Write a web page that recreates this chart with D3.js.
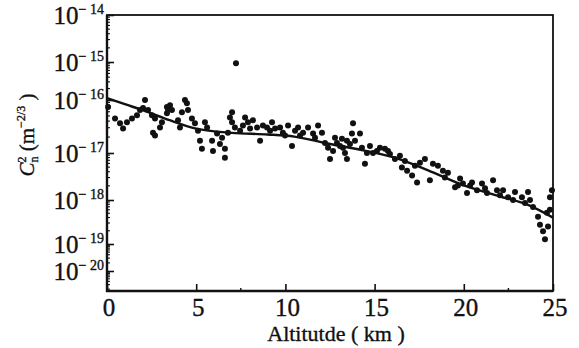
<!DOCTYPE html>
<html>
<head>
<meta charset="utf-8">
<script src="https://cdnjs.cloudflare.com/ajax/libs/d3/7.8.5/d3.min.js"></script>
<style>
  body { margin: 0; background: #fff; }
  svg { display: block; }
  text { font-family: "Liberation Serif", "DejaVu Serif", serif; fill: #111; stroke: #111; stroke-width: 0.35px; }
</style>
</head>
<body>
<svg id="chart" width="579" height="348"></svg>
<script>
// measured profile: altitude (km) and log10 of Cn2 (m^-2/3)
const altKm = [0.06,0.45,0.73,0.90,1.12,1.40,1.68,1.85,2.02,2.13,2.30,2.52,2.58,2.69,2.69,2.97,3.08,3.36,3.36,3.42,
  3.53,3.64,3.98,4.09,4.20,4.37,4.48,4.54,4.76,4.93,5.10,5.21,5.32,5.49,5.61,5.89,5.94,6.17,6.33,6.45,
  6.61,6.61,6.78,6.89,7.01,7.01,7.17,7.23,7.46,7.62,7.74,7.90,8.02,8.18,8.41,8.58,8.74,8.97,9.14,9.25,
  9.42,9.70,9.86,9.98,10.15,10.37,10.54,10.71,10.82,10.99,11.27,11.55,11.66,11.83,12.05,12.22,12.39,12.50,12.67,12.78,
  12.89,13.06,13.17,13.23,13.34,13.45,13.45,13.62,13.73,13.79,13.90,14.18,14.29,14.46,14.57,14.74,14.91,15.13,15.30,15.58,
  15.75,15.86,16.14,16.42,16.53,16.70,16.82,17.10,17.26,17.38,17.54,17.82,18.10,18.27,18.55,18.83,18.94,19.11,19.51,19.67,
  19.79,19.95,20.18,20.35,20.46,20.74,21.02,21.19,21.30,21.64,21.86,22.03,22.20,22.48,22.76,22.87,23.26,23.43,23.60,23.71,
  23.88,24.16,24.27,24.44,24.55,24.66,24.72,24.83,24.83,24.94];
const logCn2 = [-16.13,-16.35,-16.44,-16.54,-16.42,-16.35,-16.29,-16.19,-16.15,-16.00,-16.19,-16.29,-16.62,-16.35,-16.67,-16.52,-16.42,-16.13,-16.25,-16.19,
  -16.10,-16.19,-16.38,-16.52,-16.23,-16.00,-16.06,-16.19,-16.35,-16.44,-16.58,-16.77,-16.92,-16.42,-16.52,-16.77,-16.96,-16.63,-16.83,-16.71,
  -16.92,-17.10,-16.62,-16.33,-16.23,-16.42,-16.52,-15.03,-16.58,-16.48,-16.33,-16.42,-16.54,-16.38,-16.52,-16.77,-16.48,-16.52,-16.58,-16.42,
  -16.54,-16.52,-16.62,-16.67,-16.48,-16.87,-16.58,-16.52,-16.67,-16.62,-16.52,-16.63,-16.71,-16.48,-16.62,-16.81,-16.90,-17.13,-16.96,-16.71,
  -16.81,-16.87,-16.73,-16.90,-17.00,-16.77,-17.13,-16.83,-16.63,-16.44,-16.77,-16.63,-16.90,-17.23,-17.00,-16.87,-17.00,-16.96,-16.90,-16.92,
  -16.96,-17.02,-17.13,-17.06,-17.31,-17.17,-17.38,-17.48,-17.27,-17.63,-17.21,-17.13,-17.58,-17.23,-17.27,-17.38,-17.52,-17.42,-17.73,-17.69,
  -17.54,-17.65,-17.85,-17.69,-17.63,-17.79,-17.65,-17.75,-17.85,-17.58,-17.79,-17.90,-17.79,-17.94,-18.00,-17.83,-17.94,-18.07,-17.83,-18.00,
  -18.16,-18.38,-18.56,-18.71,-18.89,-18.29,-18.60,-17.94,-18.22,-17.79];

// fitted model curve
const fitKm  = [0, 1, 2, 3.5, 5, 7, 9, 10.5, 12.5, 14.5, 16.3, 18, 20, 22, 23.6, 25];
const fitLog = [-15.95, -16.08, -16.19, -16.38, -16.54, -16.62, -16.65, -16.69, -16.83, -16.96, -17.12, -17.37, -17.69, -17.92, -18.11, -18.40];

const xTickValues = [0, 5, 10, 15, 20, 25];
const xMinorTicks = [7.5, 22.5];
const yDecades = [-14, -15, -16, -17, -18, -19, -20];

const svg = d3.select('#chart');
const plotL = 107, plotR = 553, plotT = 15, plotB = 291;

svg.append('rect').attr('width', 579).attr('height', 348).attr('fill', '#fff');

const x = d3.scaleLinear().domain([0, 25]).range([plotL, plotR]);

// the printed axis is not evenly spaced, so the log scale is piecewise
const y = d3.scaleLog()
    .domain(yDecades.map(e => Math.pow(10, e)).concat([1.7e-21]))
    .range([plotT, 62, 100, 153, 200, 244, 271, plotB]);

const points = altKm.map((k, i) => ({ km: k, v: Math.pow(10, logCn2[i]) }));
const fit = fitKm.map((k, i) => ({ km: k, v: Math.pow(10, fitLog[i]) }));

// frame
svg.append('rect')
    .attr('x', plotL).attr('y', plotT)
    .attr('width', plotR - plotL).attr('height', plotB - plotT)
    .attr('fill', 'none').attr('stroke', '#111').attr('stroke-width', 1.8);
svg.append('path')
    .attr('d', 'M' + plotL + ',' + plotT + 'V' + plotB + 'H' + plotR)
    .attr('fill', 'none').attr('stroke', '#111').attr('stroke-width', 2.4);

// x ticks (inward)
const xAxis = d3.axisTop(x).tickValues(xTickValues).tickSize(7).tickFormat('');
svg.append('g').attr('transform', 'translate(0,' + plotB + ')').call(xAxis)
    .call(g => g.select('.domain').remove())
    .call(g => g.selectAll('line').attr('stroke', '#111').attr('stroke-width', 1.6));
svg.append('g').selectAll('line').data(xMinorTicks).enter().append('line')
    .attr('x1', d => x(d)).attr('x2', d => x(d))
    .attr('y1', plotB).attr('y2', plotB - 3)
    .attr('stroke', '#111').attr('stroke-width', 1.4);

svg.append('g').selectAll('text').data(xTickValues).enter().append('text')
    .attr('x', d => x(d) + 2).attr('y', 316)
    .attr('text-anchor', 'middle')
    .style('font-size', '25px')
    .text(d => d);

svg.append('text')
    .attr('x', 336).attr('y', 341)
    .attr('text-anchor', 'middle')
    .style('font-size', '22px')
    .text('Altitutde ( km )');

// y ticks (inward) + minor ticks
const yAxis = d3.axisRight(y).tickValues(yDecades.map(e => Math.pow(10, e))).tickSize(7).tickFormat('');
svg.append('g').attr('transform', 'translate(' + plotL + ',0)').call(yAxis)
    .call(g => g.select('.domain').remove())
    .call(g => g.selectAll('line').attr('stroke', '#111').attr('stroke-width', 1.6));

const minor = [];
[-15, -16, -17, -18, -19, -20, -21].forEach(e => {
    for (let k = 2; k <= 9; k++) {
        const v = k * Math.pow(10, e);
        if (v >= 1.7e-21) minor.push(v);
    }
});
svg.append('g').selectAll('line').data(minor).enter().append('line')
    .attr('x1', plotL).attr('x2', plotL + 3)
    .attr('y1', d => y(d)).attr('y2', d => y(d))
    .attr('stroke', '#111').attr('stroke-width', 1.1);

const yLabels = svg.append('g').selectAll('text').data(yDecades).enter().append('text')
    .attr('x', 104).attr('y', d => y(Math.pow(10, d)) + 9)
    .attr('text-anchor', 'end')
    .style('font-size', '25px');
yLabels.append('tspan').text('10');
yLabels.append('tspan').attr('dy', -10).style('font-size', '14px').text(d => '\u2212 ' + (-d));

// y title
const yt = svg.append('text')
    .attr('transform', 'translate(34,135) rotate(-90)')
    .attr('text-anchor', 'middle')
    .style('font-size', '21px');
yt.append('tspan').style('font-style', 'italic').text('C');
yt.append('tspan').attr('dy', -8).style('font-size', '12px').text('2');
yt.append('tspan').attr('dx', -6).attr('dy', 12).style('font-size', '12px').text('n');
yt.append('tspan').attr('dy', -4).text(' (m');
yt.append('tspan').attr('dy', -9).style('font-size', '12px').text('\u22122/3');
yt.append('tspan').attr('dy', 9).text(' )');

// data
svg.append('g').selectAll('circle').data(points).enter().append('circle')
    .attr('cx', d => x(d.km)).attr('cy', d => y(d.v))
    .attr('r', 3).attr('fill', '#111');

// fitted curve
const line = d3.line().x(d => x(d.km)).y(d => y(d.v)).curve(d3.curveMonotoneX);
svg.append('path').datum(fit)
    .attr('d', line)
    .attr('fill', 'none').attr('stroke', '#111').attr('stroke-width', 2.4);
</script>
</body>
</html>
